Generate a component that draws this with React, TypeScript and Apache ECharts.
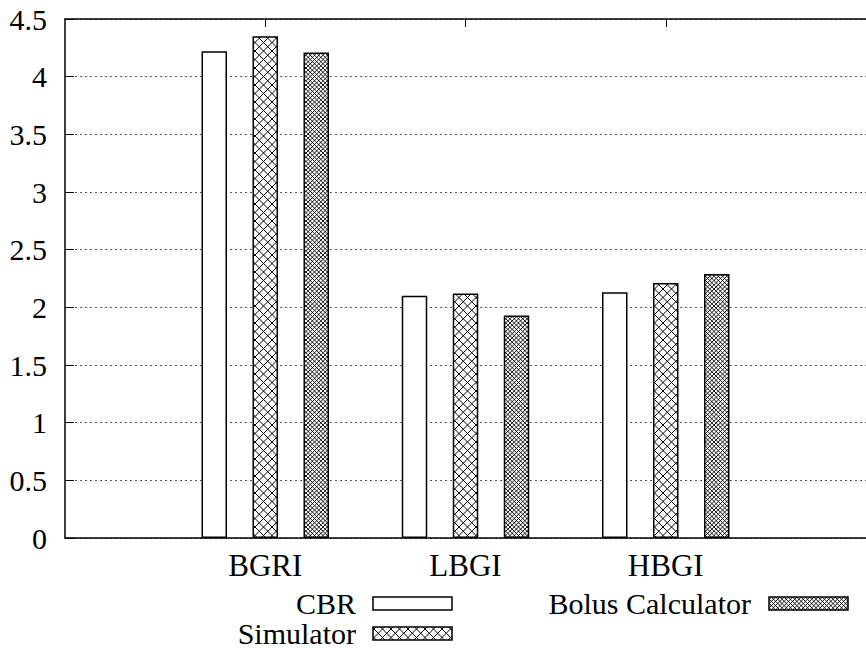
import React, { useEffect, useRef } from "react";
import * as echarts from "echarts";

const categories = ["BGRI", "LBGI", "HBGI"];
const seriesNames = ["CBR", "Simulator", "Bolus Calculator"];
const cbrValues = [4.22, 2.1, 2.13];
const simulatorValues = [4.35, 2.12, 2.21];
const bolusValues = [4.21, 1.93, 2.29];
const yTicks = { min: 0, max: 4.5, interval: 0.5 };

const FONT = "Liberation Serif";

function makePattern(period: number, lw: number) {
  const s = 17;
  const c = document.createElement("canvas");
  c.width = s;
  c.height = s;
  const ctx = c.getContext("2d")!;
  ctx.fillStyle = "#fff";
  ctx.fillRect(0, 0, s, s);
  ctx.strokeStyle = "#000";
  ctx.lineWidth = lw;
  for (let k = -10; k <= 14; k++) {
    const c0 = k * period;
    ctx.beginPath();
    ctx.moveTo(c0, 0);
    ctx.lineTo(c0 + s, s);
    ctx.stroke();
    ctx.beginPath();
    ctx.moveTo(c0, 0);
    ctx.lineTo(c0 - s, s);
    ctx.stroke();
  }
  return { image: c, repeat: "repeat", imageWidth: s, imageHeight: s } as any;
}

export default function App() {
  const ref = useRef<HTMLDivElement>(null);
  useEffect(() => {
    if (!ref.current) return;
    const chart = echarts.init(ref.current, null, { renderer: "svg" });
    const simPattern = makePattern(8.5, 1);
    const bolusPattern = makePattern(4.25, 0.9);
    const fills = ["#fff", simPattern, bolusPattern];
    const values = [cbrValues, simulatorValues, bolusValues];

    const xBase = {
      type: "value",
      min: -1,
      max: 3,
      splitLine: { show: false },
      axisLine: { show: true, onZero: false, lineStyle: { color: "#000", width: 1.5 } },
      axisTick: {
        show: true,
        inside: true,
        length: 8,
        customValues: [0, 1, 2],
        lineStyle: { color: "#000", width: 1 },
      },
    };

    const legendPos = [
      { tx: 356, ty: 603, bx: 373 },
      { tx: 356, ty: 633, bx: 373 },
      { tx: 751, ty: 603, bx: 769 },
    ];

    const graphics: any[] = [];
    seriesNames.forEach((name, i) => {
      const p = legendPos[i];
      graphics.push({
        type: "text",
        x: p.tx,
        y: p.ty,
        style: {
          text: name,
          fontFamily: FONT,
          fontSize: 30,
          fill: "#000",
          align: "right",
          verticalAlign: "middle",
        },
      });
      graphics.push({
        type: "rect",
        shape: { x: p.bx, y: p.ty - 6, width: 79, height: 13 },
        style: { fill: fills[i], stroke: "#000", lineWidth: 1.5 },
      });
    });

    chart.setOption({
      animation: false,
      backgroundColor: "#fff",
      textStyle: { fontFamily: FONT },
      grid: { left: 65, top: 19, width: 810, height: 519, containLabel: false },
      xAxis: [
        {
          ...xBase,
          position: "bottom",
          axisLabel: {
            show: true,
            customValues: [0, 1, 2],
            formatter: (v: number) => categories[Math.round(v)] ?? "",
            margin: 12,
            fontFamily: FONT,
            fontSize: 31,
            color: "#000",
          },
        },
        {
          ...xBase,
          position: "top",
          axisLabel: { show: false },
        },
      ],
      yAxis: [
        {
          type: "value",
          min: yTicks.min,
          max: yTicks.max,
          interval: yTicks.interval,
          axisLine: { show: true, onZero: false, lineStyle: { color: "#000", width: 1.5 } },
          axisTick: { show: true, inside: true, length: 9, lineStyle: { color: "#000", width: 1 } },
          axisLabel: {
            margin: 18,
            fontFamily: FONT,
            fontSize: 30,
            color: "#000",
          },
          splitLine: {
            show: true,
            lineStyle: { color: "#555", width: 1, type: [2, 3] },
          },
        },
      ],
      series: seriesNames.map((name, i) => ({
        type: "bar",
        name,
        xAxisIndex: 0,
        yAxisIndex: 0,
        barWidth: 25.5,
        barGap: "100%",
        data: categories.map((_, j) => [j, values[i][j]]),
        itemStyle: { color: fills[i], borderColor: "#000", borderWidth: 1.5 },
      })),
      graphic: graphics,
    } as any);
    return () => chart.dispose();
  }, []);
  return (
    <div
      ref={ref}
      style={{ position: "fixed", left: 0, top: 0, width: 866, height: 648, background: "#fff" }}
    />
  );
}
